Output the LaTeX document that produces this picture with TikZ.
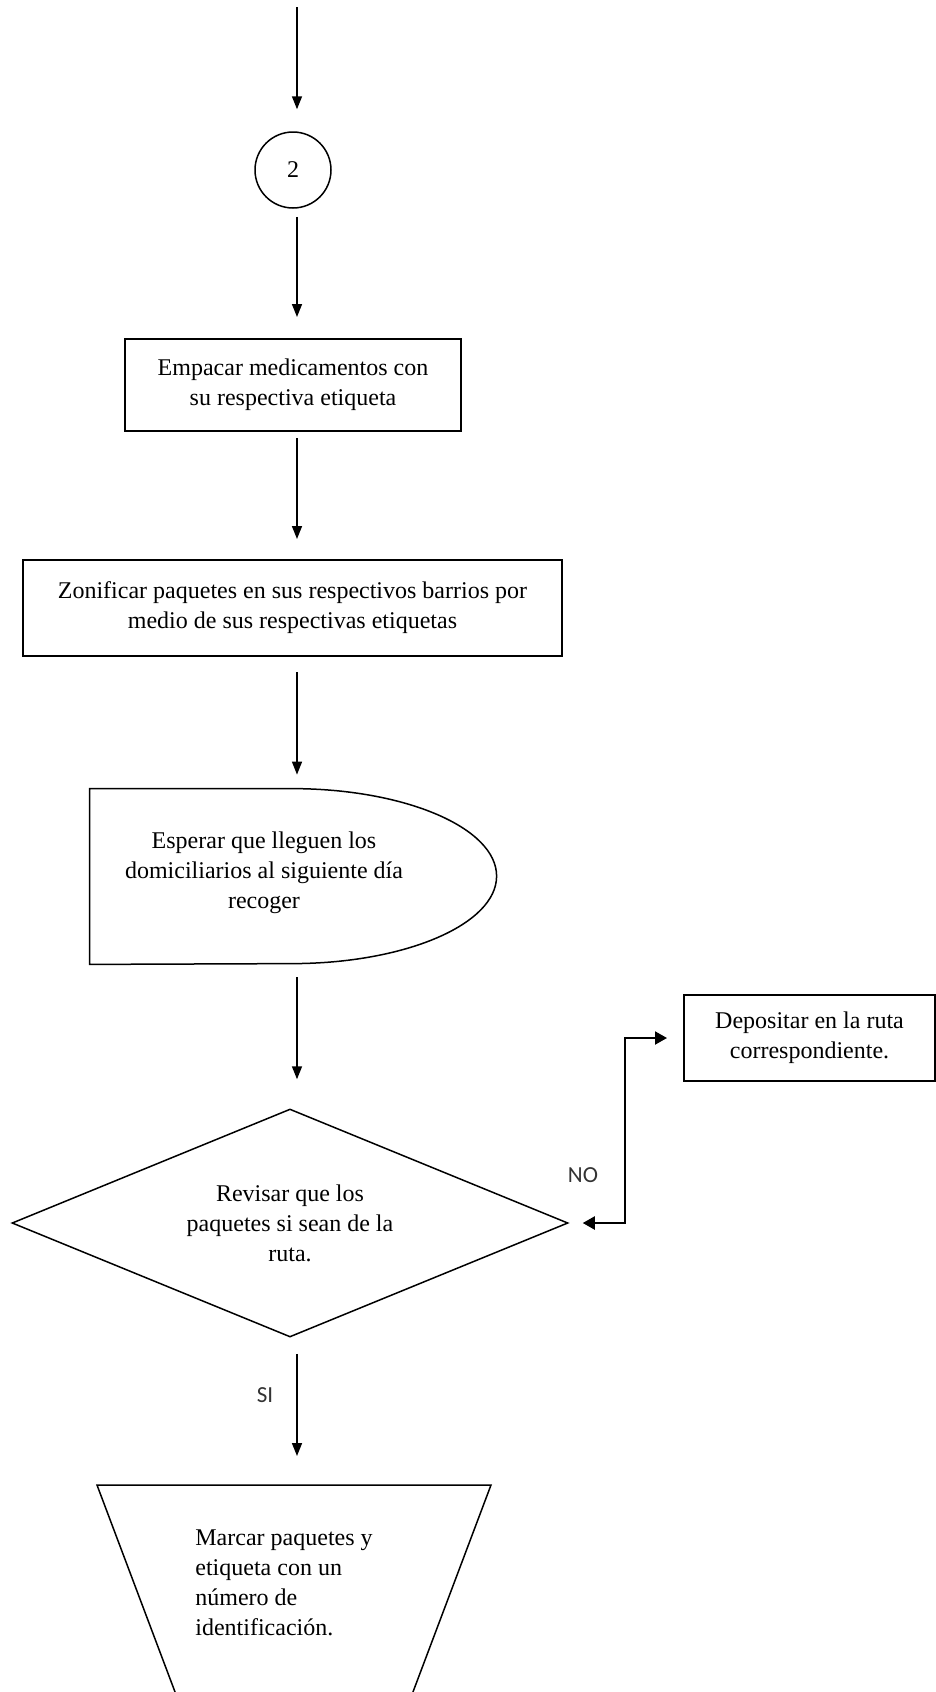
\documentclass[tikz,border=0pt]{standalone}
\usepackage{fontspec}
\setmainfont{Liberation Serif}
\newfontfamily\answerfont{Carlito}
\usetikzlibrary{arrows.meta}
\usetikzlibrary{shapes.geometric}
\usetikzlibrary{calc}
\tikzset{basic box/.style={draw,rectangle,line width=1pt,inner sep=0pt,align=center,font=\fontsize{12}{15}\selectfont}}
\tikzset{flow/.style={draw,line width=0.75pt,-{Triangle[length=6.5pt,width=5pt]}}}
\tikzset{elbow/.style={draw,line width=1pt,{Triangle[length=6pt,width=6.5pt]}-{Triangle[length=6pt,width=6.5pt]}}}

\begin{document}
\begin{tikzpicture}
    [
      x=0.5pt, y=-0.5pt,
      txt/.style = {inner sep=0pt, align=center, font=\fontsize{12}{15}\selectfont},
      answer/.style = {inner sep=0pt, font=\answerfont\fontsize{11.5}{13}\selectfont, text=black!80},
    ]
    \path[use as bounding box, clip] (0,0) rectangle (936,1692);

    % connector 2
    \coordinate (top) at (297,7);
    \node [draw,circle,line width=0.75pt,minimum size=38pt,txt] (c2) at (293,170) {2};
    \draw [flow, shorten >=11pt] (top) -- (c2.north -| top);

    % packing
    \node [basic box,minimum width=168pt,minimum height=46pt] (pack) at (293,385) {Empacar medicamentos con\\su respectiva etiqueta};
    \draw [flow, shorten <=4pt, shorten >=10.5pt] (c2.south -| top) -- (pack.north -| top);

    % zoning
    \node [basic box,minimum width=269.5pt,minimum height=48pt] (zone) at (292.5,608) {Zonificar paquetes en sus respectivos barrios por\\medio de sus respectivas etiquetas};
    \draw [flow, shorten <=3pt, shorten >=10pt] (pack.south -| top) -- (zone.north -| top);

    % delay
    \node [minimum width=203.5pt,minimum height=87.5pt,inner sep=0pt] (wait) at (293.5,876.5) {};
    \draw [line width=0.75pt] (wait.north west) -- ($(wait.north west)+(202,0)$)
      arc[start angle=90,end angle=-90,x radius=102.5pt,y radius=43.75pt] -- (wait.south west) -- cycle;
    \node [txt] (waittxt) at (264,873) {Esperar que lleguen los\\domiciliarios al siguiente día\\recoger};
    \draw [flow, shorten <=7.5pt, shorten >=7pt] (zone.south -| top) -- (wait.north -| top);

    % decision
    \node [draw,diamond,shape aspect=2.44,line width=0.75pt,minimum width=278pt,minimum height=114pt,txt] (chk) at (290,1223) {Revisar que los\\paquetes si sean de la\\ruta.};
    \draw [flow, shorten <=6.5pt, shorten >=14.5pt] (wait.south -| top) -- (chk.north -| top);

    % NO branch
    \node [basic box,minimum width=125.5pt,minimum height=43pt] (dep) at (809.5,1038) {Depositar en la ruta\\correspondiente.};
    \coordinate (elb) at (625,1130);
    \draw [elbow, shorten <=7pt, shorten >=8pt] (chk.east) -- (chk.east -| elb) |- (dep.west);
    \node [answer] (no) at (583,1175) {NO};

    % SI branch
    \coordinate (mark) at (294,1485);
    \draw [line width=0.75pt] (mark) ++(-197,0) -- ++(394,0) -- ++(-88.6,235) -- ++(-216.8,0) -- cycle;
    \node [txt,align=left,anchor=west] (marktxt) at (195,1583) {Marcar paquetes y\\etiqueta con un\\número de\\identificación.};
    \draw [flow, shorten <=8pt, shorten >=14.5pt] (chk.south -| top) -- (mark -| top);
    \node [answer] (si) at (265,1395) {SI};

\end{tikzpicture}
\end{document}
